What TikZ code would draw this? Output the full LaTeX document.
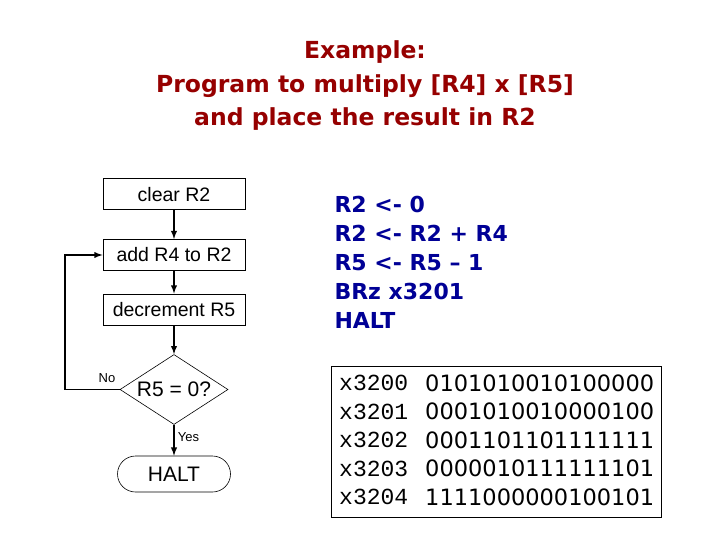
\documentclass[tikz,border=0pt]{standalone}
\usepackage{fontspec}
\setmainfont{Liberation Sans}
\newfontfamily\comicfont{DejaVu Sans}
\newfontfamily\typefont{Liberation Mono}
\usetikzlibrary{arrows,shapes.geometric,shapes.misc,positioning,calc}
\definecolor{titlered}{RGB}{150,0,0}
\definecolor{codeblue}{RGB}{0,0,150}
\tikzset{
	stepbox/.style={draw,line width=1pt,minimum width=142pt,minimum height=31pt,inner sep=0pt,font=\fontsize{19.5}{22}\selectfont},
	decision/.style={draw,diamond,aspect=1.55,line width=0.6pt,minimum width=108pt,minimum height=70pt,inner sep=0pt,font=\fontsize{21}{22}\selectfont},
	terminal/.style={draw,rounded rectangle,line width=0.6pt,minimum width=113pt,minimum height=36pt,inner sep=0pt,font=\fontsize{21}{22}\selectfont},
	flow/.style={-latex,line width=1.8pt},
	tag/.style={font=\fontsize{13}{14}\selectfont,inner sep=1pt},
}
\begin{document}
\begin{tikzpicture}[x=1pt,y=-1pt]
	\useasboundingbox (0,0) rectangle (720,540);
	% title
	\node (title) at (365,86) [align=center,text=titlered,font=\comicfont\bfseries\fontsize{23.5}{33.5}\selectfont] {Example:\\Program to multiply [R4] x [R5]\\and place the result in R2};
	% flow chart
	\node (clear) at (174,194.5) [stepbox] {clear R2};
	\node (add) at (174,255) [stepbox] {add R4 to R2};
	\node (dec) at (174,309.5) [stepbox] {decrement R5};
	\node (test) at (174,389.5) [decision] {R5 = 0?};
	\node (halt) at (174,474) [terminal] {HALT};
	\coordinate (back) at (65,389.5);
	\draw[flow] (clear) -- (add);
	\draw[flow] (add) -- (dec);
	\draw[flow] (dec) -- (test);
	\draw[flow] (test) -- (halt) node[tag,pos=0.4,right=2pt] {Yes};
	\draw[flow] (test.west) -- (back) |- (add.west);
	\node[tag] at (107,378) {No};
	% assembly
	\node (asm) at (331,262) [anchor=west,align=left,text=codeblue,font=\comicfont\bfseries\fontsize{22}{29}\selectfont] {R2 <- 0\\R2 <- R2 + R4\\R5 <- R5 – 1\\BRz x3201\\HALT};
	% machine code
	\draw[line width=0.6pt] (331,366) rectangle (661,517);
	\foreach \addr/\bits [count=\i] in {x3200/0101010010100000,x3201/0001010010000100,x3202/0001101101111111,x3203/0000010111111101,x3204/1111000000100101}{
		\node (addr\i) at (339,354.5+28.5*\i) [anchor=west,inner sep=0pt,font=\typefont\fontsize{23}{24}\selectfont] {\addr};
		\node (bits\i) at (425,354.5+28.5*\i) [anchor=west,inner sep=0pt,font=\comicfont\fontsize{22.5}{24}\selectfont] {\bits};
	}
\end{tikzpicture}
\end{document}
